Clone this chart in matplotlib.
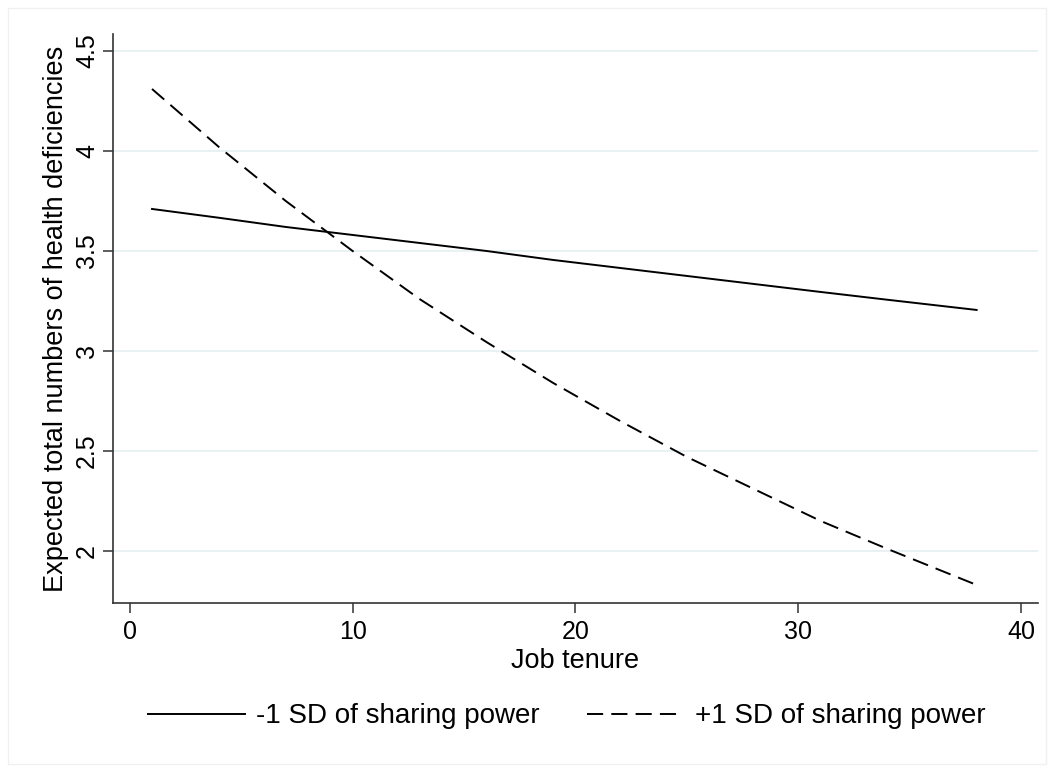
import matplotlib
matplotlib.use("Agg")
import matplotlib.pyplot as plt
from matplotlib.patches import Rectangle

plt.rcParams["font.family"] = ["Liberation Sans", "DejaVu Sans"]

# ---------- data ----------
tenure = [1, 4, 7, 10, 13, 16, 19, 22, 25, 28, 31, 34, 38]
low_power = [3.71, 3.666, 3.62, 3.58, 3.54, 3.50, 3.455, 3.415, 3.375, 3.335, 3.295, 3.256, 3.205]
high_power = [4.31, 4.02, 3.75, 3.50, 3.26, 3.045, 2.84, 2.65, 2.47, 2.31, 2.15, 2.01, 1.83]
series_labels = ["-1 SD of sharing power", "+1 SD of sharing power"]
x_ticks = [0, 10, 20, 30, 40]
y_ticks = [2, 2.5, 3, 3.5, 4, 4.5]
y_tick_labels = ["2", "2.5", "3", "3.5", "4", "4.5"]

fig = plt.figure(figsize=(10.54, 7.72), dpi=100)
fig.patch.set_facecolor("white")
# faint graph-region border
fig.add_artist(Rectangle((8 / 1054, 8 / 772), 1 - 16 / 1054, 1 - 16 / 772,
                         transform=fig.transFigure, fill=False,
                         edgecolor="#f0f0f0", linewidth=1))

ax = fig.add_axes([0.107, 0.219, 0.8775, 0.737])
ax.plot(tenure, low_power, color="black", linewidth=1.4, label=series_labels[0])
ax.plot(tenure, high_power, color="black", linewidth=1.4, linestyle=(0, (8.3, 4.2)),
        label=series_labels[1])

ax.set_xlim(-0.76, 40.74)
ax.set_ylim(1.74, 4.585)
ax.set_xticks(x_ticks)
ax.set_yticks(y_ticks)
ax.set_yticklabels(y_tick_labels, rotation=90, va="center")
ax.grid(axis="y", color="#e6eff1", linewidth=1.2)
ax.set_axisbelow(True)

for side in ("top", "right"):
    ax.spines[side].set_visible(False)
for side in ("left", "bottom"):
    ax.spines[side].set_color("#333333")
    ax.spines[side].set_linewidth(1.2)
ax.tick_params(axis="both", direction="out", length=7, width=1.1, color="#333333",
               labelsize=18)
ax.tick_params(axis="x", pad=5)
ax.tick_params(axis="y", pad=3)

ax.set_xlabel("Job tenure", fontsize=19.5, labelpad=3)
ax.set_ylabel("Expected total numbers of health deficiencies", fontsize=19.5, labelpad=4)

fig.legend(loc="center", bbox_to_anchor=(0.538, 0.072), ncol=2, frameon=False,
           fontsize=20, handlelength=3.5, columnspacing=1.7, handletextpad=0.4)

fig.savefig("out.png", dpi=100)
